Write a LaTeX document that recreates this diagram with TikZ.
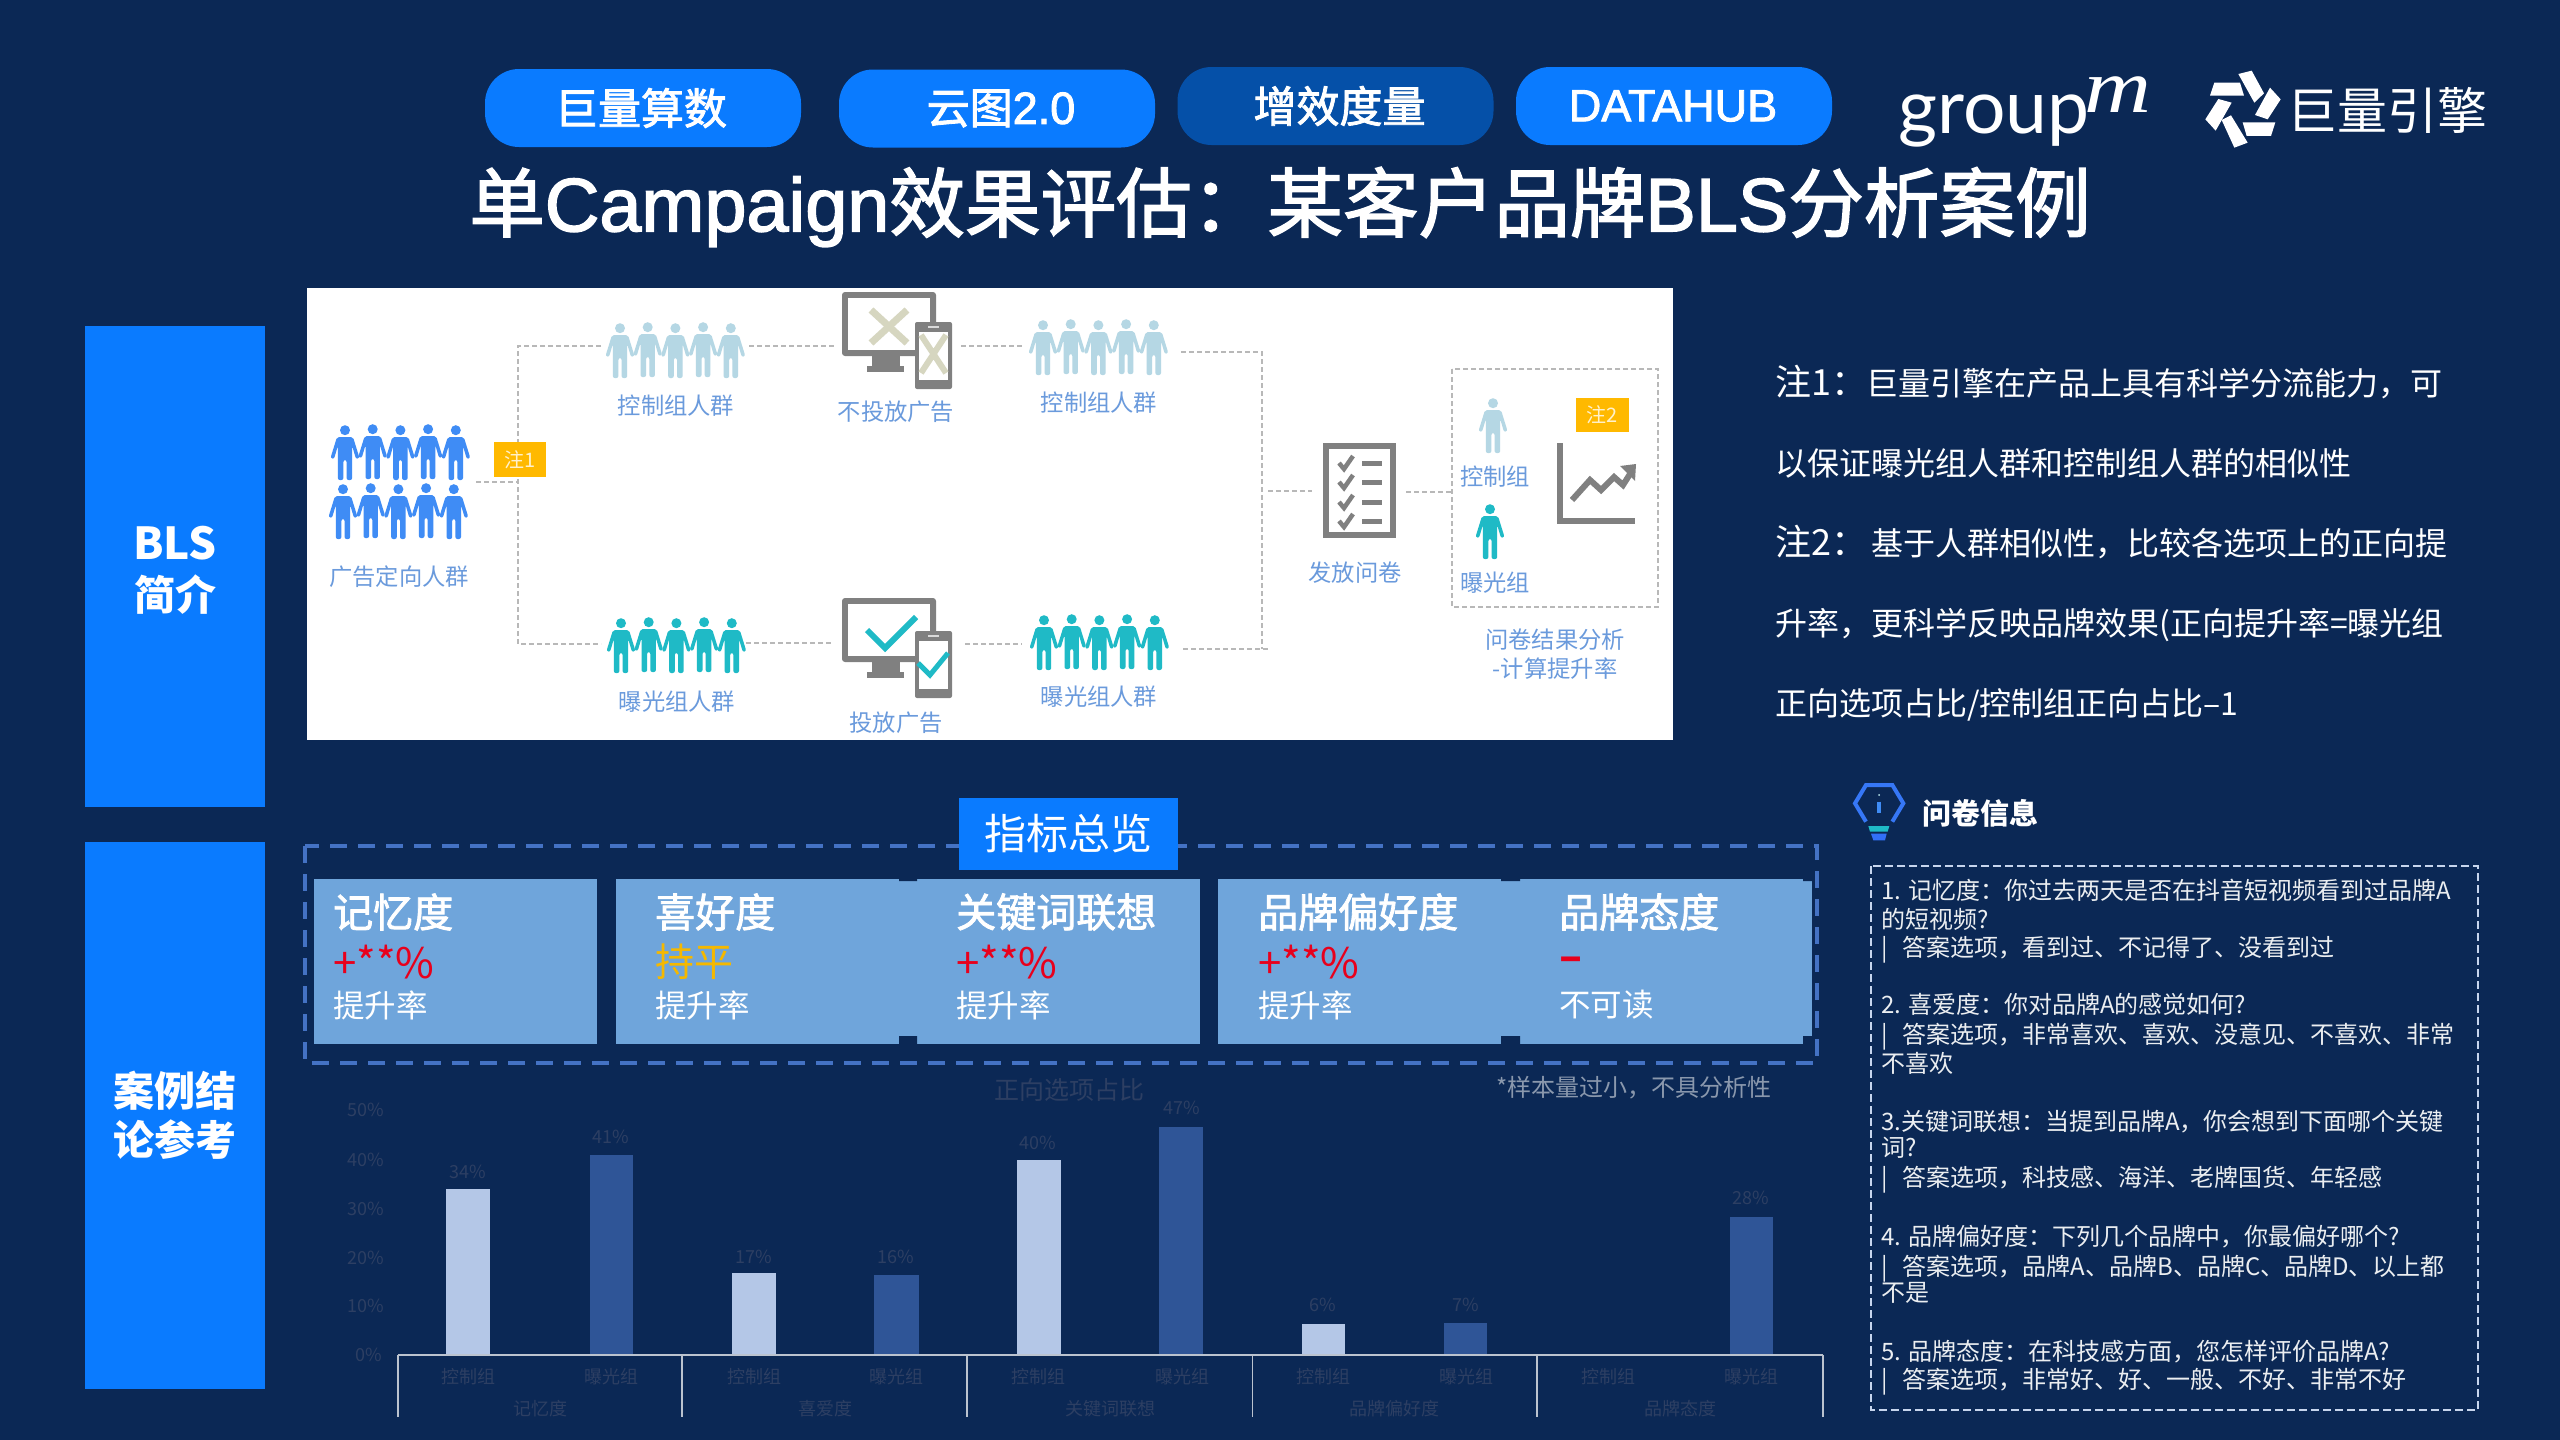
\documentclass[tikz,border=0pt]{standalone}
\usepackage{fontspec}
\setmainfont{Noto Sans CJK SC}
\newfontfamily\logosans{Lato}
\newfontfamily\logoserif{Liberation Serif}
\newfontfamily\medcjk[FakeBold=2]{Noto Sans CJK SC}
\newfontfamily\medlat[FakeBold=2]{Liberation Sans}
\newcommand{\ltn}[1]{{\medlat #1}}
\newcommand{\szf}[1]{\fontsize{#1pt}{#1pt}\selectfont}
\definecolor{bgnavy}{HTML}{0B2855}
\definecolor{brightblue}{HTML}{0A7BFF}
\definecolor{darkpill}{HTML}{0550A8}
\definecolor{cardblue}{HTML}{6FA5DB}
\definecolor{dashblue}{HTML}{4472C4}
\definecolor{barlight}{HTML}{B4C7E7}
\definecolor{bardark}{HTML}{2F5597}
\definecolor{iconblue}{HTML}{3F8CF5}
\definecolor{iconpale}{HTML}{B5D7E4}
\definecolor{iconteal}{HTML}{1FBAC6}
\definecolor{icongrey}{HTML}{808080}
\definecolor{imgtext}{HTML}{6A9ADC}
\definecolor{notegold}{HTML}{FFB900}
\definecolor{dimtext}{HTML}{2D3F63}
\definecolor{cardred}{HTML}{E8001C}
\definecolor{cardgold}{HTML}{F5B800}
\definecolor{xmark}{HTML}{D6D6C0}
\newcommand{\oneperson}[3]{%
  \begin{scope}[shift={(#1,#2)}]
    \fill[#3] (0,5.2) circle (5pt);
    \fill[#3,rounded corners=2pt] (-8,12) -- (8,12) -- (14.5,33) -- (11,34) -- (7.2,21) -- (7.2,55) -- (1.6,55) -- (1.6,35) -- (-1.6,35) -- (-1.6,55) -- (-7.2,55) -- (-7.2,21) -- (-11,34) -- (-14.5,33) -- cycle;
  \end{scope}}
\newcommand{\personrow}[3]{%
  \foreach \kk/\jj in {0/0,1/1,2/0,3/1,4/0}{%
    \pgfmathsetmacro{\px}{#1+14+27.7*\kk}%
    \pgfmathsetmacro{\py}{#2-\jj}%
    \oneperson{\px}{\py}{#3}}}
\newcommand{\devices}[3]{%
  \begin{scope}[shift={(#1,#2)}]
    \fill[icongrey] (30,63) rectangle (58,74);
    \fill[icongrey] (25,74) rectangle (62,80);
    \fill[icongrey,rounded corners=3pt] (0,0) rectangle (94,64);
    \fill[white] (6,6) rectangle (88,58);
    \fill[icongrey,rounded corners=2pt] (73,#3) rectangle (110,#3+67);
    \fill[white] (77,#3+10) rectangle (106,#3+58);
    \fill[white!70!icongrey] (86,#3+4) rectangle (97,#3+6);
  \end{scope}}
\tikzset{
  x=1pt,y=-1pt,
  pillbox/.style={fill=brightblue,text=white,rounded corners=34pt,minimum width=316pt,minimum height=78pt,inner sep=0pt,font=\medcjk\szf{43}},
  sidebox/.style={fill=brightblue,text=white,minimum width=180pt,inner sep=0pt},
  sidetext/.style={text=white,font=\bfseries\szf{41},inner sep=0pt},
  imglabel/.style={text=imgtext,font=\szf{23.3},inner sep=0pt},
  noteflag/.style={fill=notegold,text=white!80!notegold,font=\szf{20},inner sep=0pt},
  imgdash/.style={draw=black!28,line width=1.4pt,dash pattern=on 5pt off 3pt},
  notetext/.style={text=white,anchor=west,inner sep=0pt,text height=26pt,text depth=6pt,font=\szf{32}},
  cardhead/.style={text=white,anchor=west,inner sep=0pt,font=\medcjk\szf{40}},
  cardval/.style={anchor=west,inner sep=0pt,font=\szf{42}},
  cardsub/.style={text=white,anchor=west,inner sep=0pt,font=\szf{31.5}},
  dimlabel/.style={text=dimtext,inner sep=0pt,font=\szf{18}},
  qline/.style={text=white!92!bgnavy,anchor=west,inner sep=0pt,text height=20pt,text depth=5pt,font=\szf{24}},
  axisline/.style={draw=white!72!bgnavy,line width=1.6pt},
}
\begin{document}
\begin{tikzpicture}
\useasboundingbox (0,0) rectangle (2560,1440);
\fill[bgnavy] (0,0) rectangle (2560,1440);

% header pills
\node[pillbox] (pa) at (643,108) {\raisebox{-4pt}{巨量算数\kern 4pt}};
\node[pillbox] (pb) at (997,108.5) {\raisebox{-4pt}{\kern 8pt云图{\szf{45}\ltn{2.0}}}};
\node[pillbox,fill=darkpill] (pc) at (1335.5,106) {\raisebox{-4pt}{\kern 8pt增效度量}};
\node[pillbox] (pd) at (1674,106) {\raisebox{-4pt}{{\szf{45}\ltn{DATAHUB}}\kern 2pt}};

% logos
\node[text=white,anchor=west,inner sep=0pt,font=\logosans\szf{75}] (lga) at (1898,121) {group};
\node[text=white,anchor=west,inner sep=0pt,font=\logoserif\itshape\szf{76}] (lgb) at (2084,95) {\scalebox{1.22}[1]{m}};
\begin{scope}[shift={(2195,60)},scale=0.3333]
  \fill[white] (58,68) -- (135,68) -- (147,107) -- (45,107) -- cycle;
  \fill[white] (130,42) -- (170,32) -- (207,100) -- (178,128) -- cycle;
  \fill[white] (225,83) -- (257,118) -- (218,178) -- (180,165) -- cycle;
  \fill[white] (143,187) -- (241,187) -- (228,228) -- (155,228) -- cycle;
  \fill[white] (80,180) -- (108,166) -- (158,248) -- (118,263) -- cycle;
  \fill[white] (70,117) -- (110,128) -- (62,212) -- (31,178) -- cycle;
\end{scope}
\node[text=white,anchor=west,inner sep=0pt,font=\szf{50}] (lgc) at (2287,110) {巨量引擎};

% title
\node[text=white,inner sep=0pt,font=\medcjk\szf{75.6}] (ttl) at (1280,207) {单\ltn{Campaign}效果评估：某客户品牌\ltn{BLS}分析案例};

% side boxes
\node[sidebox,minimum height=481pt] (sa) at (175,566.5) {};
\node[sidebox,minimum height=547pt] (sb) at (175,1115.5) {};
\node[sidetext,font=\bfseries\szf{44}] (sa1) at (175,543) {BLS};
\node[sidetext] (sa2) at (175,595) {简介};
\node[sidetext] (sb1) at (175,1091) {案例结};
\node[sidetext] (sb2) at (175,1140) {论参考};

% flow image
\fill[white] (307,288) rectangle (1673,740);

\coordinate (srcend) at (476,482);
\coordinate (splitmid) at (518,482);
\coordinate (splittop) at (518,346);
\coordinate (splitbot) at (518,644);
\coordinate (ctlin) at (601,346);
\coordinate (ctlout) at (749,346);
\coordinate (noadin) at (835,346);
\coordinate (noadout) at (961,346);
\coordinate (ctl2in) at (1022,346);
\coordinate (expin) at (601,644);
\coordinate (expout) at (746,643);
\coordinate (adin) at (831,643);
\coordinate (adout) at (965,644);
\coordinate (exp2in) at (1022,644);
\coordinate (ctl2out) at (1181,352);
\coordinate (mergetop) at (1262,352);
\coordinate (mergebot) at (1262,649);
\coordinate (exp2out) at (1183,649);
\coordinate (mergeend) at (1268,649);
\coordinate (mergeout) at (1268,491);
\coordinate (surveyin) at (1312,491);
\coordinate (surveyout) at (1406,492);
\coordinate (resultin) at (1452,492);
\draw[imgdash] (srcend) -- (splitmid);
\draw[imgdash] (ctlin) -- (splittop) -- (splitbot) -- (expin);
\draw[imgdash] (ctlout) -- (noadin);
\draw[imgdash] (noadout) -- (ctl2in);
\draw[imgdash] (expout) -- (adin);
\draw[imgdash] (adout) -- (exp2in);
\draw[imgdash] (ctl2out) -- (mergetop) -- (mergebot);
\draw[imgdash] (exp2out) -- (mergeend);
\draw[imgdash] (mergeout) -- (surveyin);
\draw[imgdash] (surveyout) -- (resultin);
\draw[imgdash] (1452,369) rectangle (1658,607);

% people
\personrow{331}{425}{iconblue}
\personrow{329}{484}{iconblue}
\personrow{606}{323}{iconpale}
\personrow{607}{618}{iconteal}
\personrow{1029}{320}{iconpale}
\personrow{1030}{615}{iconteal}
\oneperson{1493}{398}{iconpale}
\oneperson{1490}{504}{iconteal}

% devices
\devices{842}{292}{30}
\draw[line width=7pt,draw=xmark] (871,310) -- (907,343) (907,310) -- (871,343);
\draw[line width=6pt,draw=xmark] (921,335) -- (946,373) (946,335) -- (921,373);
\devices{842}{598}{33}
\draw[line width=6pt,draw=iconteal] (867,630) -- (885,648) -- (916,617);
\draw[line width=5pt,draw=iconteal] (918,663) -- (930,675) -- (948,653);

% questionnaire icon
\draw[draw=icongrey,fill=white,line width=6pt] (1326,446) rectangle (1393,535);
\foreach \ya in {463,482,502,521}{
  \draw[draw=icongrey,line width=4.5pt] (1339,\ya) -- (1344,\ya+6) -- (1353,\ya-7);
  \draw[draw=icongrey,line width=5pt] (1362,\ya) -- (1382,\ya);
}

% result chart icon
\draw[draw=icongrey,line width=6pt] (1560,443) -- (1560,521) -- (1635,521);
\draw[draw=icongrey,line width=6pt] (1572,500) -- (1590,480) -- (1601,490) -- (1614,477) -- (1623,485) -- (1630,474);
\fill[icongrey] (1620,466) -- (1636,464) -- (1635,481) -- cycle;

% image flags
\node[noteflag,minimum width=52pt,minimum height=35pt] (na) at (520,459.5) {注1};
\node[noteflag,minimum width=53pt,minimum height=34pt] (nb) at (1602.5,415) {注2};

% image labels
\node[imglabel] (il1) at (399,577) {广告定向人群};
\node[imglabel] (il2) at (676,406) {控制组人群};
\node[imglabel] (il3) at (896,412) {不投放广告};
\node[imglabel] (il4) at (677,702) {曝光组人群};
\node[imglabel] (il5) at (896,723) {投放广告};
\node[imglabel] (il6) at (1099,403) {控制组人群};
\node[imglabel] (il7) at (1099,697) {曝光组人群};
\node[imglabel] (il8) at (1355,573) {发放问卷};
\node[imglabel] (il9) at (1495,477) {控制组};
\node[imglabel] (il10) at (1495,583) {曝光组};
\node[imglabel] (il11) at (1555,640) {问卷结果分析};
\node[imglabel] (il12) at (1555,669) {-计算提升率};

% notes
\node[notetext] (n1a) at (1775,385) {\szf{36}注1：};
\node[notetext] (n1b) at (1866,385) {巨量引擎在产品上具有科学分流能力，可};
\node[notetext] (n2) at (1775,465) {以保证曝光组人群和控制组人群的相似性};
\node[notetext] (n3a) at (1775,545) {\szf{36}注2：};
\node[notetext] (n3b) at (1871,545) {基于人群相似性，比较各选项上的正向提};
\node[notetext] (n4) at (1775,625) {升率，更科学反映品牌效果(正向提升率=曝光组};
\node[notetext] (n5) at (1775,705) {正向选项占比/控制组正向占比–1};

% metric panel
\draw[draw=dashblue,line width=4pt,dash pattern=on 17pt off 11pt] (305,846) rectangle (1817,1063);
\fill[cardblue] (314,879) rectangle (597,1044);
\fill[cardblue] (616,879) rectangle (1200,1044);
\fill[cardblue] (1218,879) rectangle (1812,1044);
\fill[bgnavy] (899,1036) rectangle (917,1044) (899,879) rectangle (917,881);
\fill[bgnavy] (1501,1036) rectangle (1520,1044) (1501,879) rectangle (1520,881);
\fill[bgnavy] (1803,1036) rectangle (1812,1044) (1803,879) rectangle (1812,881);
\node[fill=brightblue,text=white,minimum width=219pt,minimum height=72pt,inner sep=0pt,font=\szf{42}] (panel) at (1068.5,834) {指标总览};

\node[cardhead] (ca1) at (333,912) {记忆度};
\node[cardval,text=cardred] (ca2) at (333,962) {+**\%};
\node[cardsub] (ca3) at (333,1005) {提升率};
\node[cardhead] (cb1) at (655,912) {喜好度};
\node[cardval,text=cardgold,font=\szf{39}] (cb2) at (655,962) {持平};
\node[cardsub] (cb3) at (655,1005) {提升率};
\node[cardhead] (cc1) at (956,912) {关键词联想};
\node[cardval,text=cardred] (cc2) at (956,962) {+**\%};
\node[cardsub] (cc3) at (956,1005) {提升率};
\node[cardhead] (cd1) at (1258,912) {品牌偏好度};
\node[cardval,text=cardred] (cd2) at (1258,962) {+**\%};
\node[cardsub] (cd3) at (1258,1005) {提升率};
\node[cardhead] (ce1) at (1559,912) {品牌态度};
\node[cardval,text=cardred,font=\bfseries\szf{42}] (ce2) at (1559,964) {–};
\node[cardsub] (ce3) at (1559,1005) {不可读};

% bar chart
\fill[barlight] (446,1189) rectangle (490,1355);
\fill[bardark] (589.5,1155) rectangle (633,1355);
\fill[barlight] (732,1273) rectangle (776,1355);
\fill[bardark] (874,1275) rectangle (919,1355);
\fill[barlight] (1017,1160) rectangle (1061,1355);
\fill[bardark] (1159,1127) rectangle (1203,1355);
\fill[barlight] (1301.5,1324) rectangle (1345,1355);
\fill[bardark] (1444,1323) rectangle (1487,1355);
\fill[bardark] (1730,1217) rectangle (1773,1355);
\coordinate (axa) at (398,1355);
\coordinate (axb) at (682,1355);
\coordinate (axc) at (967,1355);
\coordinate (axd) at (1252.5,1355);
\coordinate (axe) at (1537,1355);
\coordinate (axf) at (1823,1355);
\draw[axisline] (axa) -- (axb) -- (axc) -- (axd) -- (axe) -- (axf);
\foreach \p in {axa,axb,axc,axd,axe,axf}{\draw[axisline] (\p) -- ++(0,62);}

\node[dimlabel] (ya) at (366,1110) {50\%};
\node[dimlabel] (yb) at (366,1160) {40\%};
\node[dimlabel] (yc) at (366,1209) {30\%};
\node[dimlabel] (yd) at (366,1258) {20\%};
\node[dimlabel] (ye) at (366,1306) {10\%};
\node[dimlabel] (yf) at (369,1355) {0\%};
\node[dimlabel] (va) at (468,1172) {34\%};
\node[dimlabel] (vb) at (611,1137) {41\%};
\node[dimlabel] (vc) at (754,1257) {17\%};
\node[dimlabel] (vd) at (896,1257) {16\%};
\node[dimlabel] (ve) at (1038,1143) {40\%};
\node[dimlabel] (vf) at (1182,1108) {47\%};
\node[dimlabel] (vg) at (1323,1305) {6\%};
\node[dimlabel] (vh) at (1466,1305) {7\%};
\node[dimlabel] (vi) at (1751,1198) {28\%};
\node[dimlabel] (xa) at (468,1377) {控制组};
\node[dimlabel] (xb) at (611,1377) {曝光组};
\node[dimlabel] (xc) at (754,1377) {控制组};
\node[dimlabel] (xd) at (896,1377) {曝光组};
\node[dimlabel] (xe) at (1038,1377) {控制组};
\node[dimlabel] (xf) at (1182,1377) {曝光组};
\node[dimlabel] (xg) at (1323,1377) {控制组};
\node[dimlabel] (xh) at (1466,1377) {曝光组};
\node[dimlabel] (xi) at (1608,1377) {控制组};
\node[dimlabel] (xj) at (1751,1377) {曝光组};
\node[dimlabel] (ga) at (540,1409) {记忆度};
\node[dimlabel] (gb) at (825,1409) {喜爱度};
\node[dimlabel] (gc) at (1110,1409) {关键词联想};
\node[dimlabel] (gd) at (1394,1409) {品牌偏好度};
\node[dimlabel] (ge) at (1680,1409) {品牌态度};
\node[text=dimtext,inner sep=0pt,font=\szf{25}] (chtitle) at (1069,1090) {正向选项占比};
\node[text=white!52!bgnavy,inner sep=0pt,font=\szf{24}] (caveat) at (1634,1088) {*样本量过小，不具分析性};

% info icon
\begin{scope}[shift={(1840,775)},scale=0.3333]
  \draw[draw=iconblue!85!blue,line width=4pt] (78,140) -- (45,85) -- (78,30) -- (157,30) -- (190,85) -- (157,140);
  \fill[white!70!iconteal] (117,60) circle (3pt);
  \draw[draw=iconblue,line width=4pt] (117,80) -- (117,115);
  \fill[iconteal] (85,153) -- (148,153) -- (143,170) -- (90,170) -- cycle;
  \fill[iconblue!80!blue] (93,176) -- (140,176) -- (135,196) -- (100,196) -- cycle;
\end{scope}
\node[text=white,anchor=west,inner sep=0pt,font=\bfseries\szf{29}] (qhead) at (1922,813) {问卷信息};

% questionnaire box
\draw[draw=white!70!dashblue,line width=2.5pt,dash pattern=on 8pt off 4pt] (1871,866) rectangle (2478,1410);
\node[qline] (q1) at (1881,892) {1. 记忆度：你过去两天是否在抖音短视频看到过品牌A};
\node[qline] (q2) at (1881,921) {的短视频?};
\node[qline] (q3) at (1881,949) {|\kern 15pt答案选项，看到过、不记得了、没看到过};
\node[qline] (q4) at (1881,1006) {2. 喜爱度：你对品牌A的感觉如何?};
\node[qline] (q5) at (1881,1036) {|\kern 15pt答案选项，非常喜欢、喜欢、没意见、不喜欢、非常};
\node[qline] (q6) at (1881,1065) {不喜欢};
\node[qline] (q7) at (1881,1123) {3.关键词联想：当提到品牌A，你会想到下面哪个关键};
\node[qline] (q8) at (1881,1149) {词?};
\node[qline] (q9) at (1881,1179) {|\kern 15pt答案选项，科技感、海洋、老牌国货、年轻感};
\node[qline] (q10) at (1881,1238) {4. 品牌偏好度：下列几个品牌中，你最偏好哪个?};
\node[qline] (q11) at (1881,1268) {|\kern 15pt答案选项，品牌A、品牌B、品牌C、品牌D、以上都};
\node[qline] (q12) at (1881,1294) {不是};
\node[qline] (q13) at (1881,1353) {5. 品牌态度：在科技感方面，您怎样评价品牌A?};
\node[qline] (q14) at (1881,1381) {|\kern 15pt答案选项，非常好、好、一般、不好、非常不好};
\end{tikzpicture}
\end{document}
